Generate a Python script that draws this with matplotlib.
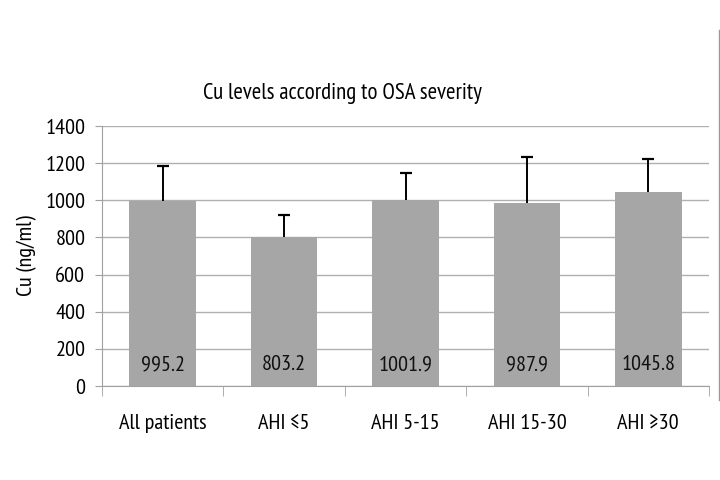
import matplotlib.pyplot as plt
import numpy as np
from matplotlib.lines import Line2D

plt.rcParams['font.family'] = ['PT Sans Narrow', 'DejaVu Sans Condensed', 'DejaVu Sans']

# data
groups = ["All patients", "AHI \u22645", "AHI 5-15", "AHI 15-30", "AHI \u226530"]
cu_mean = [995.2, 803.2, 1001.9, 987.9, 1045.8]
cu_sd = [192, 118, 143, 243, 176]

grey = "#a6a6a6"
axis_grey = "#a0a0a0"
fs = 16

fig = plt.figure(figsize=(7.2, 4.8), dpi=100)
ax = fig.add_axes([102/720, 1 - 386/480, 607/720, 260/480])

x = np.arange(len(groups))
ax.bar(x, cu_mean, width=0.55, color=grey, zorder=2)
# upper-only error bars: stem plus a cap at the top
top = np.array(cu_mean) + np.array(cu_sd)
ax.vlines(x, cu_mean, top, color='black', linewidth=1.4, zorder=3)
ax.plot(x, top, linestyle='none', marker='_', markersize=8,
        markeredgewidth=1.6, color='black', zorder=3)

for xi, v in zip(x, cu_mean):
    ax.text(xi, 115, f"{v:.1f}", ha='center', va='center', fontsize=fs,
            color='#111111', zorder=4)

ax.set_xlim(-0.5, len(groups) - 0.5)
ax.set_ylim(0, 1400)
ax.set_yticks(range(0, 1401, 200))
ax.yaxis.grid(True, color='#b0b0b0', linewidth=1, zorder=0)
ax.set_axisbelow(True)

ax.set_xticks(x)
ax.set_xticklabels(groups, fontsize=fs)
ax.set_xticks(np.arange(-0.5, len(groups)), minor=True)
ax.tick_params(axis='x', which='major', length=0, pad=20)
ax.tick_params(axis='x', which='minor', length=7, color=axis_grey, direction='out')
ax.tick_params(axis='y', length=5, color=axis_grey, labelsize=fs, pad=7)

for s in ['top', 'right']:
    ax.spines[s].set_visible(False)
for s in ['left', 'bottom']:
    ax.spines[s].set_color(axis_grey)

ax.set_ylabel("Cu (ng/ml)", fontsize=fs, labelpad=6)
fig.text(342/720, 1 - 93/480, "Cu levels according to OSA severity",
         ha='center', va='center', fontsize=16.5)

# frame edge on the right of the original figure
fig.add_artist(Line2D([719/720, 719/720], [1 - 30/480, 1 - 400/480],
                      color='#999999', linewidth=1))

fig.savefig("out.png", dpi=100)
